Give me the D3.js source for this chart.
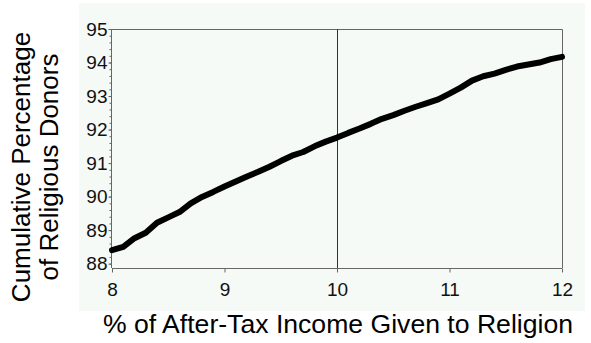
<!DOCTYPE html>
<html>
<head>
<meta charset="utf-8">
<script src="https://cdn.jsdelivr.net/npm/d3@7/dist/d3.min.js"></script>
<style>
  html, body { margin: 0; padding: 0; background: #fff; }
  svg { display: block; font-family: "Liberation Sans", Arial, sans-serif; }
</style>
</head>
<body>
<svg id="chart" width="591" height="343"></svg>
<script>
// Share of after-tax income given to religion (%)
const incomeShare = [
  8.0, 8.1, 8.2, 8.3, 8.4, 8.5, 8.6, 8.7, 8.8, 8.9,
  9.0, 9.1, 9.2, 9.3, 9.4, 9.5, 9.6, 9.7, 9.8, 9.9,
  10.0, 10.1, 10.2, 10.3, 10.4, 10.5, 10.6, 10.7, 10.8, 10.9,
  11.0, 11.1, 11.2, 11.3, 11.4, 11.5, 11.6, 11.7, 11.8, 11.9, 12.0
];
// Cumulative percentage of religious donors at or below that share
const cumulativePct = [
  88.40, 88.50, 88.76, 88.92, 89.22, 89.38, 89.54, 89.80, 89.99, 90.14,
  90.30, 90.45, 90.60, 90.74, 90.89, 91.06, 91.22, 91.33, 91.50, 91.64,
  91.76, 91.90, 92.03, 92.17, 92.32, 92.43, 92.56, 92.68, 92.79, 92.90,
  93.07, 93.25, 93.46, 93.59, 93.67, 93.78, 93.88, 93.94, 94.00, 94.10, 94.17
];
const xTicks = [8, 9, 10, 11, 12];
const yTicks = [88, 89, 90, 91, 92, 93, 94, 95];
const referenceX = 10;

const svg = d3.select("#chart");

// plot frame
const plotL = 112, plotR = 562, plotT = 29, plotB = 268;

const x = d3.scaleLinear().domain([8, 12]).range([plotL, plotR]);
const y = d3.scaleLinear().domain([95, 87.87]).range([plotT, plotB]);

// light panel behind the plot
svg.append("rect")
  .attr("x", 79).attr("y", 3)
  .attr("width", 506).attr("height", 308)
  .attr("fill", "#f5faf7");

// top and right frame lines
svg.append("path")
  .attr("d", `M${plotL},${plotT + 0.5}H${plotR + 0.5}V${plotB}`)
  .attr("fill", "none")
  .attr("stroke", "#666")
  .attr("stroke-width", 1);

// reference line at 10%
svg.append("line")
  .attr("x1", Math.round(x(referenceX)) + 0.5)
  .attr("x2", Math.round(x(referenceX)) + 0.5)
  .attr("y1", plotT).attr("y2", plotB)
  .attr("stroke", "#333")
  .attr("stroke-width", 1);

// y axis: minor ticks every 0.2, major with labels
const yAxisG = svg.append("g").attr("transform", `translate(${plotL - 0.5},0)`);
const minor = d3.range(88, 95.001, 0.2).map(v => +v.toFixed(1));
yAxisG.call(d3.axisLeft(y).tickValues(minor).tickSize(2).tickFormat(""));
yAxisG.select(".domain").attr("d", `M0,${plotT}V${plotB}`).attr("stroke", "#666");
const yMajor = svg.append("g").attr("transform", `translate(${plotL - 0.5},0)`)
  .call(d3.axisLeft(y).tickValues(yTicks).tickSize(3).tickPadding(1).tickFormat(d3.format("d")));
yMajor.select(".domain").remove();
yMajor.selectAll("text")
  .attr("font-size", 19)
  .attr("fill", "#111")
  .attr("font-family", "Liberation Sans, Arial, sans-serif");

// x axis
const xAxisG = svg.append("g").attr("transform", `translate(0,${plotB + 0.5})`)
  .call(d3.axisBottom(x).tickValues(xTicks).tickSize(4).tickPadding(10).tickFormat(d3.format("d")));
xAxisG.select(".domain").attr("d", `M${plotL},0H${plotR}`).attr("stroke", "#666");
xAxisG.selectAll("text")
  .attr("font-size", 19)
  .attr("fill", "#111")
  .attr("font-family", "Liberation Sans, Arial, sans-serif");
svg.selectAll(".tick line").attr("stroke", "#666");

// cumulative curve
const pts = incomeShare.map((v, i) => [v, cumulativePct[i]]);
svg.append("path")
  .datum(pts)
  .attr("fill", "none")
  .attr("stroke", "#000")
  .attr("stroke-width", 6)
  .attr("stroke-linejoin", "round")
  .attr("stroke-linecap", "round")
  .attr("d", d3.line().x(d => x(d[0])).y(d => y(d[1])));

// axis titles
svg.append("text")
  .attr("x", 338).attr("y", 333)
  .attr("text-anchor", "middle")
  .attr("font-size", 26.6)
  .attr("fill", "#000")
  .text("% of After-Tax Income Given to Religion");

const yTitle = svg.append("text")
  .attr("transform", "translate(30,167) rotate(-90)")
  .attr("text-anchor", "middle")
  .attr("font-size", 26)
  .attr("fill", "#000");
yTitle.append("tspan").attr("x", 0).attr("dy", 0).text("Cumulative Percentage");
yTitle.append("tspan").attr("x", 0).attr("dy", 28).text("of Religious Donors");
</script>
</body>
</html>
